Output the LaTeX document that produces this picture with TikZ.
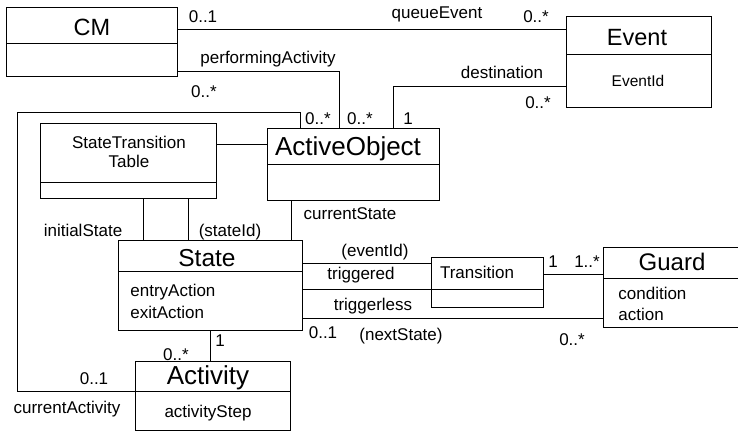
\documentclass[tikz,border=0pt]{standalone}
\usepackage{fontspec}
\setmainfont{Liberation Sans}
\begin{document}
\begin{tikzpicture}[x=1pt,y=-1pt,line width=0.8pt,
  cls/.style={draw,rectangle,inner sep=0pt,anchor=north west},
  title/.style={font=\fontsize{24}{24}\selectfont,inner sep=0pt,text height=17.4pt,text depth=0pt},
  lbl/.style={font=\fontsize{17}{17}\selectfont,inner sep=0pt,text height=12.2pt,text depth=0pt},
  attr/.style={lbl,anchor=west}]
\useasboundingbox (0,0) rectangle (738,431);

% ---- classes ----
\node[cls,minimum width=171pt,minimum height=69pt] (cm) at (6,7) {};
\draw (cm.west |- 0,43) -- (cm.east |- 0,43);
\node[title,font=\fontsize{23.5}{24}\selectfont] (cmT) at (92,27) {CM};

\node[cls,minimum width=145pt,minimum height=91pt] (ev) at (566,16) {};
\draw (ev.west |- 0,54) -- (ev.east |- 0,54);
\node[title,font=\fontsize{23.5}{24}\selectfont] (evT) at (637,37) {Event};
\node[lbl,font=\fontsize{15.5}{16}\selectfont,text height=11.1pt] (evA) at (638,81) {EventId};

\node[cls,minimum width=172pt,minimum height=72pt] (ao) at (267,128) {};
\draw (ao.west |- 0,164) -- (ao.east |- 0,164);
\node[title,font=\fontsize{26}{26}\selectfont,text height=18.6pt] (aoT) at (348,146) {ActiveObject};

\node[cls,minimum width=176pt,minimum height=75pt] (stt) at (40,123) {};
\draw (stt.west |- 0,182) -- (stt.east |- 0,182);
\node[lbl] (sttA) at (129,142) {StateTransition};
\node[lbl] (sttB) at (129,161) {Table};

\node[cls,minimum width=184pt,minimum height=90pt] (st) at (118,240) {};
\draw (st.west |- 0,271) -- (st.east |- 0,271);
\node[title,font=\fontsize{24.5}{25}\selectfont] (stT) at (207,258) {State};
\node[attr] (stA) at (130,290) {entryAction};
\node[attr] (stB) at (130,312) {exitAction};

\node[cls,minimum width=155pt,minimum height=69pt] (act) at (135,361) {};
\draw (act.west |- 0,391) -- (act.east |- 0,391);
\node[title,font=\fontsize{26}{26}\selectfont,text height=18.6pt] (actT) at (208,375) {Activity};
\node[lbl] (actA) at (208,411) {activityStep};

\node[cls,minimum width=112pt,minimum height=50pt] (tr) at (431,257) {};
\node[lbl] (trT) at (477,272) {Transition};

\node[cls,minimum width=136pt,minimum height=80pt] (gd) at (603,247) {};
\draw (gd.west |- 0,278) -- (gd.east |- 0,278);
\node[title] (gdT) at (672,262) {Guard};
\node[attr] (gdA) at (618,293) {condition};
\node[attr] (gdB) at (618,314) {action};

% ---- associations ----
\draw (cm.east |- 0,29) -- (ev.west |- 0,29);
\draw (cm.east |- 0,71) -| (339,0 |- ao.north);
\draw (ev.west |- 0,86) -| (393,0 |- ao.north);
\draw (300,0 |- ao.north) |- (17,112) |- (act.west |- 0,391);
\draw (stt.east |- 0,144) -- (ao.west |- 0,144);
\draw (143,0 |- stt.south) -- (143,0 |- st.north);
\draw (188,0 |- stt.south) -- (188,0 |- st.north);
\draw (291,0 |- ao.south) -- (291,0 |- st.north);
\draw (st.east |- 0,263) -- (tr.west |- 0,263);
\draw (st.east |- 0,289) -- (tr.east |- 0,289);
\draw (st.east |- 0,318) -- (gd.west |- 0,318);
\draw (tr.east |- 0,274) -- (gd.west |- 0,274);
\draw (210,0 |- st.south) -- (210,0 |- act.north);

% ---- role names and multiplicities ----
\node[lbl] (m1) at (203,16) {0..1};
\node[lbl] (r1) at (437,12) {queueEvent};
\node[lbl] (m2) at (536,16) {0..*};
\node[lbl] (r2) at (268,57) {performingActivity};
\node[lbl] (m3) at (204,91) {0..*};
\node[lbl] (m4) at (318,118) {0..*};
\node[lbl] (m5) at (360,118) {0..*};
\node[lbl] (m6) at (408,118) {1};
\node[lbl] (r3) at (502,72) {destination};
\node[lbl] (m7) at (538,102) {0..*};
\node[lbl] (r4) at (83,230) {initialState};
\node[lbl] (r5) at (230,230) {(stateId)};
\node[lbl] (r6) at (350,213) {currentState};
\node[lbl] (r7) at (375,250) {(eventId)};
\node[lbl] (r8) at (361,273) {triggered};
\node[lbl] (r9) at (373,304) {triggerless};
\node[lbl] (m8) at (553,261) {1};
\node[lbl] (m9) at (587,261) {1..*};
\node[lbl] (m10) at (323,332) {0..1};
\node[lbl] (r10) at (401,334) {(nextState)};
\node[lbl] (m11) at (572,339) {0..*};
\node[lbl] (m12) at (220,340) {1};
\node[lbl] (m13) at (176,354) {0..*};
\node[lbl] (m14) at (94,378) {0..1};
\node[lbl] (r11) at (67,407) {currentActivity};
\end{tikzpicture}
\end{document}
